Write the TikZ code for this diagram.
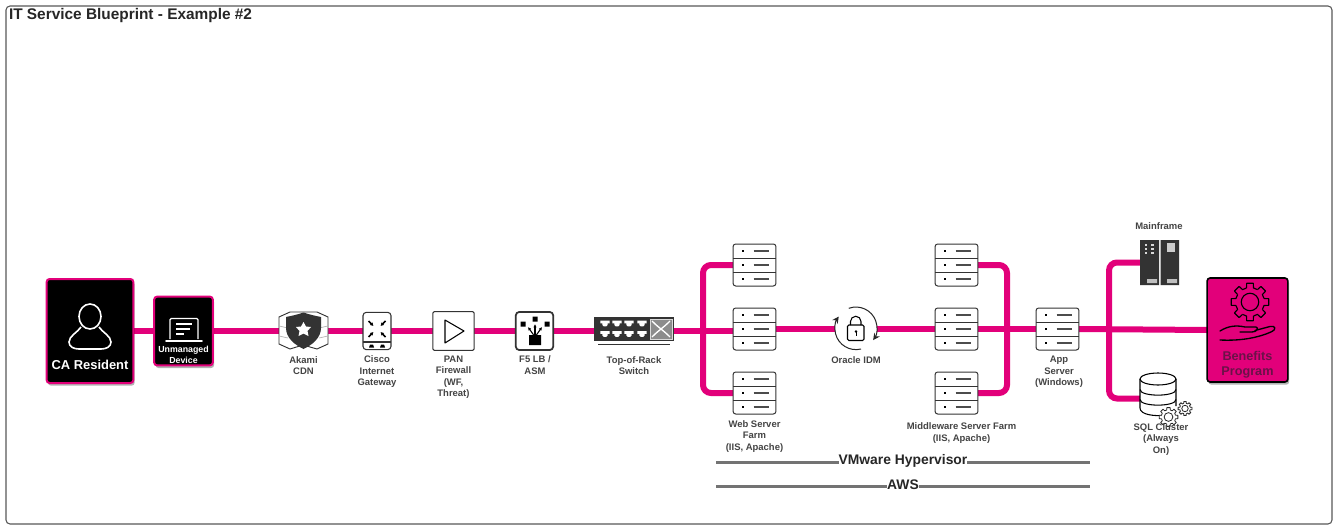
\documentclass[tikz,border=0pt]{standalone}
\usepackage{fontspec}
\setmainfont{Liberation Sans}
\usetikzlibrary{shadows,backgrounds,arrows.meta}
\definecolor{mag}{HTML}{E2007A}
\definecolor{lblc}{HTML}{444444}
\definecolor{iconc}{HTML}{333333}
\definecolor{bentxt}{HTML}{6A1248}
\newcommand{\fsz}[2]{\fontsize{#1}{#2}\selectfont\bfseries}
\tikzset{
 x=0.75pt,y=-0.75pt,
 base/.style={inner sep=0pt,outer sep=0pt},
 bus/.style={draw=mag,line width=4.5pt},
 busr/.style={bus,rounded corners=6pt},
 lbl/.style={base,align=center,text=lblc,font=\fsz{7.1pt}{8.6pt}},
 blackbox/.style={base,fill=black,draw=mag,line width=1.5pt,rounded corners=2.2pt,
   drop shadow={shadow xshift=1pt,shadow yshift=-2pt,opacity=.3,fill=black}},
 srv/.style={base,draw=iconc,fill=white,line width=0.75pt,rounded corners=2pt,minimum width=32.2pt,minimum height=31.5pt},
 iconbox/.style={base,draw=iconc,fill=white,line width=0.8pt,rounded corners=1.5pt},
 blank/.style={base,fill=white},
 ghost/.style={base},
 rule/.style={draw=black!55,line width=1.6pt},
 rulelbl/.style={base,fill=white,text=black!85,font=\fsz{10.4pt}{12pt}},
 thin icon/.style={draw=black,line width=0.75pt,line cap=round,line join=round},
 pics/srvlines/.style={code={
   \draw[iconc,line width=0.75pt] (-21.5,-7) -- (21.5,-7) (-21.5,7) -- (21.5,7);
   \foreach \ry in {-14,0,14}{
     \fill[black] (-13,\ry-0.8) rectangle (-11,\ry+0.8);
     \draw[black!70,line width=0.9pt] (-1,\ry) -- (14,\ry);}
 }},
 pics/port/.style={code={
   \fill[white] (-4.7,-2.8) -- (4.7,-2.8) -- (4.7,-0.2) -- (2.6,-0.2) -- (2.6,1.4) -- (1.4,2.8) -- (-1.4,2.8) -- (-2.6,1.4) -- (-2.6,-0.2) -- (-4.7,-0.2) -- cycle;
 }},
}
\newcommand{\drawgear}[6]{%
 \begin{scope}[shift={(#1,#2)}]
  \pgfmathsetmacro{\rt}{#3}\pgfmathsetmacro{\rb}{#3*0.76}\pgfmathsetmacro{\rh}{#3*0.46}
  \fill[#5] (0,0) circle (\rb);
  \foreach \a in {0,45,...,315}{
   \fill[#5] (\a-13:\rb) -- (\a-10:\rt) -- (\a+10:\rt) -- (\a+13:\rb) -- cycle;
   \draw[#4,line width=#6,line join=round] (\a-14:\rb) -- (\a-10:\rt) -- (\a+10:\rt) -- (\a+14:\rb) -- (\a+31:\rb);}
  \draw[#4,line width=#6] (0,0) circle (\rh);
 \end{scope}}
\begin{document}
\begin{tikzpicture}
\useasboundingbox (0,0) rectangle (1340,528);
\node[base,draw=black!65,line width=0.8pt,rounded corners=3pt,minimum width=994.5pt,minimum height=388.5pt] (frame) at (669,265) {};
\node[base,anchor=west,text=black!85,font=\fsz{11.55pt}{14pt}] (title) at (9,15.5) {IT Service Blueprint - Example \#2};

% boxes
\node[blackbox,minimum width=65pt,minimum height=78pt] (ca) at (90,331) {};
\node[blackbox,minimum width=44pt,minimum height=51.5pt] (dev) at (183.5,331) {};
\node[blackbox,draw=black,fill=mag,line width=1.2pt,minimum width=60.5pt,minimum height=78pt] (ben) at (1247.5,330) {};
% ca content
\draw[white,line width=1.2pt] (90,316.5) ellipse [x radius=11,y radius=12.5];
\draw[white,line width=1.2pt,line join=round] (81,327) .. controls (78,332) and (69,336) .. (69,342) .. controls (69,347) and (74,349) .. (79,349) -- (101,349) .. controls (106,349) and (111,347) .. (111,342) .. controls (111,336) and (102,332) .. (99,327);
\node[base,text=white,font=\fsz{9.7pt}{12pt}] (calbl) at (90,365) {CA Resident};
% device content
\draw[white,line width=0.9pt,rounded corners=1pt] (170,339) -- (170,318.5) -- (198,318.5) -- (198,339);
\draw[white,line width=1.4pt,line cap=round] (166,341) -- (202,341);
\draw[white,line width=0.8pt] (176,324) -- (192,324) (176,329) -- (190,329) (176,334) -- (184,334);
\node[base,align=center,text=white,font=\fsz{6.6pt}{8.4pt}] (devlbl) at (183.5,354.5) {Unmanaged\\Device};

% icon nodes
\node[ghost,minimum width=37pt,minimum height=28pt] (akami) at (303.5,331) {};
\node[iconbox,minimum width=21pt,minimum height=28pt,rounded corners=2.5pt] (cisco) at (377,331) {};
\node[iconbox,minimum width=31pt,minimum height=29pt,rounded corners=1pt] (pan) at (453.5,331) {};
\node[iconbox,line width=1.3pt,rounded corners=2.5pt,minimum width=28pt,minimum height=28.5pt] (f5) at (534.5,331) {};
\node[ghost,minimum width=60pt,minimum height=21pt] (tor) at (634,331) {};
\node[srv] (web1) at (754.5,265) {};
\node[srv] (web2) at (754.5,329) {};
\node[srv] (web3) at (754.5,393) {};
\node[blank,circle,minimum size=31.5pt] (idm) at (856,329) {};
\node[srv] (mw1) at (956.5,265) {};
\node[srv] (mw2) at (956.5,329) {};
\node[srv] (mw3) at (956.5,393) {};
\node[srv] (app) at (1057.5,329) {};
\node[ghost,minimum width=29.5pt,minimum height=34pt] (mf) at (1159.5,262.5) {};
\node[ghost,minimum width=27pt,minimum height=39pt] (sql) at (1158,398.5) {};
\coordinate (wj) at (703,331);
\coordinate (mj) at (1007,329);
\coordinate (rj) at (1109,329);

% connectors
\begin{scope}[on background layer]
 \fill[white] (0,0) rectangle (1340,528);
 \draw[bus] (ca.east) -- (dev.west);
 \draw[bus] (dev.east) -- (akami.west);
 \draw[bus] (akami.east) -- (cisco.west);
 \draw[bus] (cisco.east) -- (pan.west);
 \draw[bus] (pan.east) -- (f5.west);
 \draw[bus] (f5.east) -- (tor.west);
 \draw[bus] (tor.east) -- (wj) -- (wj -| web2.west);
 \draw[busr] (web1.west) -| (wj) |- (web3.west);
 \draw[bus] (web2.east) -- (idm);
 \draw[bus] (idm) -- (mw2.west);
 \draw[bus] (mw2.east) -- (app.west);
 \draw[busr] (mw1.east) -| (mj) |- (mw3.east);
 \draw[bus] (app.east) -- (ben.west);
 \draw[busr] (mf.west) -| (rj) |- (sql.west);
\end{scope}

% server details
\foreach \n in {web1,web2,web3,mw1,mw2,mw3,app}{\pic at (\n) {srvlines};}

% Akami
\draw[black!80,line width=0.7pt,line join=round,fill=white] (290,312) -- (279,317) -- (279,344) -- (290,349) -- (303,345) -- (317,349) -- (328,344) -- (328,317) -- (317,312) -- cycle;
\draw[black!30,line width=0.5pt] (279,326) -- (288,328) (279,336) -- (288,338) (319,328) -- (328,326) (319,338) -- (328,336);
\fill[iconc] (303.5,312.5) .. controls (309,314.5) and (316,316) .. (321,317) -- (321,328) .. controls (321,338) and (312,345) .. (303.5,349) .. controls (295,345) and (286,338) .. (286,328) -- (286,317) .. controls (291,316) and (298,314.5) .. (303.5,312.5) -- cycle;
\fill[white] (303.5,322) -- (306,326.5) -- (311,327) -- (307.5,331) -- (308.5,336) -- (303.5,333.5) -- (298.5,336) -- (299.5,331) -- (296,327) -- (301,326.5) -- cycle;
% Cisco
\draw[iconc,line width=0.8pt] (363,342) -- (391,342);
\fill[black] (369,347.5) -- (370,344.5) -- (373,344.5) -- (374,347.5) -- cycle (380,347.5) -- (381,344.5) -- (384,344.5) -- (385,347.5) -- cycle;
\foreach \sx/\sy in {-1/-1,1/-1,-1/1,1/1}{
 \draw[black,line width=1.2pt,-{Latex[length=2.5pt,width=3pt]}] (377+\sx*8.5,329+\sy*8) -- (377+\sx*3.5,329+\sy*3);
}
% PAN
\draw[thin icon,line width=0.8pt] (445,320) -- (464,331) -- (445,343) -- cycle;
% F5
\fill[black] (520.5,321.5) rectangle (525.5,326.5) (532.5,316.5) rectangle (537.5,321.5) (544.5,321.5) rectangle (549.5,326.5) (529,335) rectangle (541,345);
\foreach \ex/\ey in {528/327,535/324,542/327}{\draw[black,line width=0.8pt,-{Latex[length=2.5pt,width=2.5pt]}] (535,337) -- (\ex,\ey);}
% Switch
\fill[iconc] (594,317) rectangle (674,341);
\draw[iconc,line width=0.9pt] (598,344.5) -- (670,344.5);
\foreach \px in {605,617,629,642}{\pic at (\px,323.5) {port}; \pic at (\px,334) {port};}
\fill[black!45] (650,319) rectangle (672,339);
\draw[black!15,line width=0.7pt] (650,319) rectangle (672,339);
\draw[white,line width=1pt] (652,321) .. controls (660,329) and (662,329) .. (670,337) (670,321) .. controls (662,329) and (660,329) .. (652,337);
% IDM
\draw[black!85,line width=0.75pt,-{Stealth[length=5pt,width=5pt]}] (861,349) arc[start angle=76,end angle=215,radius=21];
\draw[black!85,line width=0.75pt,-{Stealth[length=5pt,width=5pt]}] (848.8,308.3) arc[start angle=250,end angle=395,radius=21];
\draw[black,line width=0.8pt,rounded corners=1pt] (847.5,325) rectangle (864,340.5);
\draw[black,line width=0.8pt] (850.5,325) -- (850.5,321.5) arc[start angle=180,end angle=360,radius=5.25] -- (861,325);
\fill[black] (856,331.5) circle (1.4);
\draw[black,line width=0.6pt] (856,331.5) -- (856,336);
% Mainframe
\fill[iconc] (1140,240) rectangle (1159,285) (1160.5,240) rectangle (1179,285);
\foreach \mx in {1144.5,1151}{\foreach \my in {244,248,252}{\fill[black!15] (\mx,\my) rectangle (\mx+2.5,\my+2);}}
\fill[black!20] (1167,243) rectangle (1175,252);
\fill[black!25] (1147,279) rectangle (1157,283) (1167,279) rectangle (1177,283);
% SQL
\fill[white] (1140,379) -- (1140,408) .. controls (1140,418) and (1176,418) .. (1176,408) -- (1176,379) -- cycle;
\fill[white] (1158,379) ellipse [x radius=18,y radius=6];
\draw[black,line width=0.8pt] (1158,379) ellipse [x radius=18,y radius=6];
\draw[black,line width=0.8pt] (1140,379) -- (1140,408) .. controls (1140,415) and (1155,416) .. (1162,415.5) (1176,379) -- (1176,406);
\draw[black,line width=0.8pt] (1140,389.5) .. controls (1140,397) and (1176,397) .. (1176,389.5) (1140,399.5) .. controls (1140,407) and (1176,407) .. (1176,399.5);
\drawgear{1168.5}{417}{9.5}{black!85}{white}{0.6pt}
\drawgear{1185}{408.5}{7}{black!85}{white}{0.6pt}
% Benefits
\drawgear{1250}{302}{19}{black}{mag}{0.85pt}
\draw[black,line width=1pt,line cap=round,line join=round] (1220,331) .. controls (1228,326) and (1236,325) .. (1245,327) -- (1256,327) .. controls (1259,328) and (1257,332) .. (1252,332) -- (1240,332) (1255,330.5) -- (1270,326.5) .. controls (1276,325) and (1276,330) .. (1272,331.5) .. controls (1258,338) and (1240,341) .. (1220,340);
\node[base,align=center,text=bentxt,font=\fsz{9.5pt}{11.4pt}] (benlbl) at (1247.5,365) {Benefits\\Program};

% labels
\node[lbl] (l1) at (303.5,365.5) {Akami\\CDN};
\node[lbl] (l2) at (377,372) {Cisco\\Internet\\Gateway};
\node[lbl] (l3) at (453.5,377) {PAN\\Firewall\\(WF,\\Threat)};
\node[lbl] (l4) at (535,365) {F5 LB /\\ASM};
\node[lbl] (l5) at (634,365.5) {Top-of-Rack\\Switch};
\node[lbl] (l6) at (754.5,436.5) {Web Server\\Farm\\(IIS, Apache)};
\node[lbl] (l7) at (856,360) {Oracle IDM};
\node[lbl] (l8) at (961.5,433) {Middleware Server Farm\\(IIS, Apache)};
\node[lbl] (l9) at (1059,372) {App\\Server\\(Windows)};
\node[lbl] (l10) at (1159,226) {Mainframe};
\node[lbl] (l11) at (1161,439.5) {SQL Cluster\\(Always\\On)};

% platform rules
\coordinate (h1) at (716,462.5); \coordinate (h2) at (1090,462.5);
\coordinate (a1) at (716,486.5); \coordinate (a2) at (1090,486.5);
\draw[rule] (h1) -- (h2);
\draw[rule] (a1) -- (a2);
\node[rulelbl] (vm) at (903,461) {VMware Hypervisor};
\node[rulelbl] (aws) at (903,485) {AWS};
\end{tikzpicture}
\end{document}
